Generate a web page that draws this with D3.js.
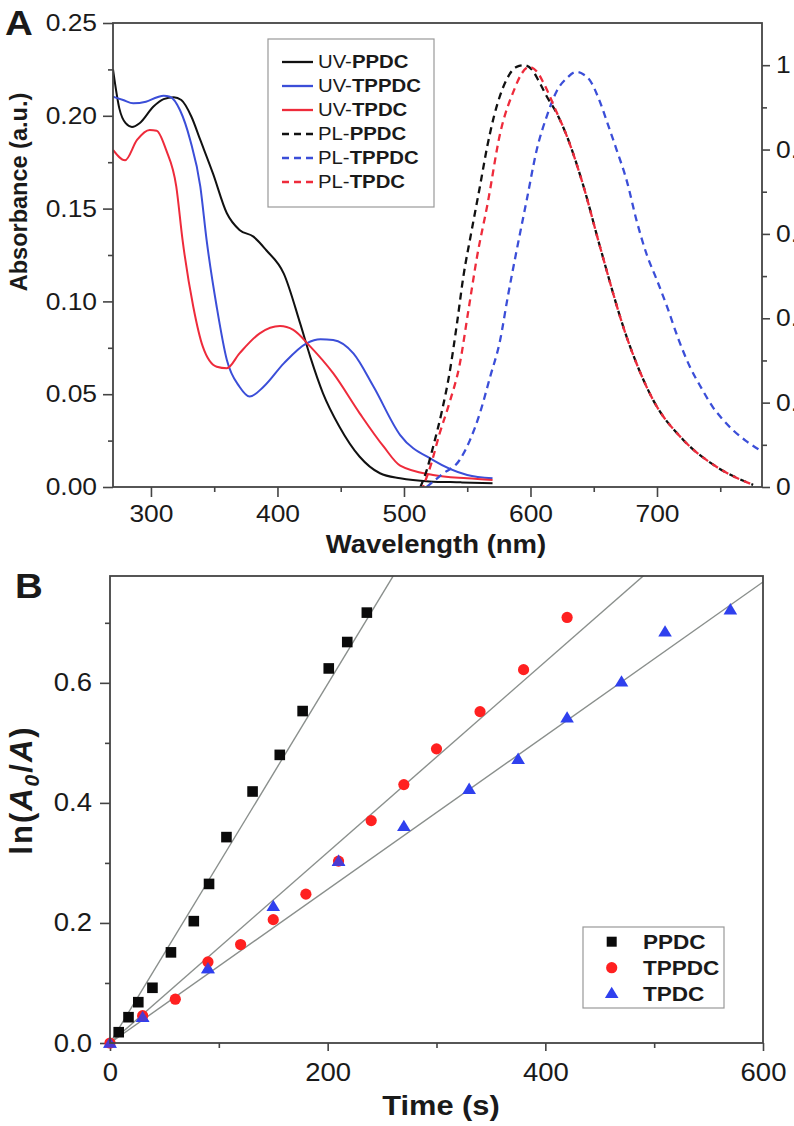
<!DOCTYPE html>
<html><head><meta charset="utf-8">
<script src="https://cdn.jsdelivr.net/npm/d3@7"></script>
<style>
body{margin:0;background:#fff}
svg{display:block}
text{font-family:"Liberation Sans",Arial,Helvetica,sans-serif;fill:#1a1a1a}
.sxL,.sxC,.sxR{transform-box:fill-box}
.sxL{transform-origin:0% 50%;transform:scaleX(1.1)}
.sxC{transform-origin:50% 50%;transform:scaleX(1.1)}
.sxR{transform-origin:100% 50%;transform:scaleX(1.1)}
</style></head><body>
<svg id="c" width="794" height="1126"></svg>
<script>
// ---------- Panel A data (wavelength nm, value) ----------
const uvPPDC = [[270,0.225],[275,0.204],[280,0.196],[285,0.194],[291,0.196],[302,0.205],[310,0.209],[318,0.210],[324,0.2085],[332,0.1995],[339,0.187],[349,0.169],[360,0.1475],[370,0.1385],[381,0.1349],[391,0.1277],[405,0.115],[418,0.088],[426,0.070],[436,0.0505],[449,0.0325],[465,0.0163],[481,0.0074],[497,0.0047],[520,0.003],[545,0.0025],[570,0.002]];
const uvTPPDC = [[270,0.2103],[278,0.2085],[286,0.2067],[296,0.2076],[305,0.2100],[310,0.2108],[315,0.2103],[323,0.203],[331,0.187],[339,0.162],[344,0.133],[352,0.097],[360,0.0684],[370,0.054],[378,0.0487],[389,0.054],[405,0.0666],[423,0.0774],[434,0.0796],[444,0.0792],[460,0.072],[476,0.054],[497,0.028],[523,0.0145],[550,0.0065],[570,0.0047]];
const uvTPDC = [[270,0.1816],[279.5,0.176],[289,0.187],[299,0.1924],[304.5,0.192],[312,0.1816],[320,0.162],[325,0.133],[333.5,0.097],[341,0.0756],[352,0.0648],[360,0.064],[370,0.072],[386,0.0828],[402,0.0867],[412.5,0.0846],[426,0.0756],[444,0.0613],[465,0.0397],[484,0.0217],[497,0.0115],[523,0.0065],[550,0.0047],[570,0.0038]];
const plPPDC = [[513,0],[518,0.04],[523,0.095],[530,0.18],[536,0.27],[542,0.39],[547,0.5],[553,0.6],[560,0.712],[566,0.81],[571,0.877],[581,0.965],[589,0.996],[595,1.0],[601,0.99],[607,0.96],[613,0.925],[620,0.89],[629,0.83],[642,0.712],[655,0.569],[676,0.356],[697,0.206],[721,0.111],[747,0.048],[776,0.005]];
const plTPPDC = [[518,0],[530,0.03],[544,0.064],[552,0.11],[560,0.175],[568,0.26],[576,0.348],[582,0.45],[589,0.56],[597,0.68],[605,0.8],[613,0.88],[621,0.94],[629,0.97],[636,0.984],[642,0.978],[647,0.964],[654,0.92],[660,0.87],[668,0.8],[676,0.727],[684,0.63],[692,0.55],[700,0.49],[708,0.427],[717,0.35],[726,0.285],[735,0.235],[744,0.19],[752,0.16],[760,0.135],[770,0.11],[781,0.088]];
const plTPDC = [[515,0],[521,0.05],[528,0.125],[536,0.2],[544,0.29],[551,0.42],[558,0.55],[566,0.67],[576,0.838],[587,0.941],[593,0.98],[599,0.996],[605,0.985],[610,0.96],[620,0.893],[629,0.83],[642,0.712],[655,0.569],[676,0.356],[697,0.206],[721,0.111],[747,0.048],[776,0.005]];

const absTicks = [0,0.05,0.10,0.15,0.20,0.25];
const absMinor = [0.025,0.075,0.125,0.175,0.225];
const wlTicks = [300,400,500,600,700];
const wlMinor = [350,450,550,650,750];
const plTicks = [0,0.2,0.4,0.6,0.8,1];
const plMinor = [0.1,0.3,0.5,0.7,0.9];

const legendAPrefix = ["UV-","UV-","UV-","PL-","PL-","PL-"];
const legendANames = ["PPDC","TPPDC","TPDC","PPDC","TPPDC","TPDC"];

// ---------- Panel B data (time s, ln(A0/A)) ----------
const tPPDC = [8,17,26,39,56,77,91,107,131,156,177,201,218,236];
const vPPDC = [0.018,0.043,0.068,0.092,0.151,0.203,0.265,0.343,0.419,0.480,0.553,0.624,0.668,0.717];
const tTPPDC = [0,30,60,90,120,150,180,210,240,270,300,340,380,420];
const vTPPDC = [0,0.0455,0.073,0.135,0.164,0.2055,0.248,0.303,0.3705,0.4305,0.49,0.552,0.622,0.709];
const tTPDC = [0,30,90,150,210,270,330,375,420,470,510,570];
const vTPDC = [0,0.043,0.124,0.228,0.303,0.361,0.423,0.473,0.542,0.602,0.685,0.722];
const fitSlopes = [0.00299,0.001588,0.00128];
const seriesB = ["PPDC","TPPDC","TPDC"];
const timeTicks = [0,200,400,600];
const timeMinor = [100,300,500];
const lnTicks = [0,0.2,0.4,0.6];
const lnMinor = [0.1,0.3,0.5,0.7];

// ---------- styling ----------
const cBlack = "#111111", cBlue = "#3b4ed8", cRed = "#ee2b3b";
const colorsA = [cBlack,cBlue,cRed,cBlack,cBlue,cRed];
const axisCol = "#444";

const svg = d3.select("#c");

function styleAx(g, cls, fs){
  g.select(".domain").remove();
  g.selectAll("line").attr("stroke",axisCol).attr("stroke-width",1.6);
  g.selectAll("text").attr("font-size",fs||24).attr("fill","#222").attr("class",cls);
}

// ================= Panel A =================
const A = {l:113, r:762, t:23, b:487};
const xA = d3.scaleLinear().domain([270,783]).range([A.l,A.r]);
const yA = d3.scaleLinear().domain([0,0.25]).range([A.b,A.t]);
const yA2 = d3.scaleLinear().domain([0,1.1]).range([A.b,A.t]);

svg.append("clipPath").attr("id","clipA").append("rect")
  .attr("x",A.l).attr("y",A.t).attr("width",A.r-A.l).attr("height",A.b-A.t);

svg.append("g").attr("transform",`translate(${A.l},0)`)
  .call(d3.axisLeft(yA).tickValues(absTicks).tickSize(10).tickSizeOuter(0).tickPadding(6).tickFormat(d3.format(".2f")))
  .call(g=>styleAx(g,"sxR"));
svg.append("g").attr("transform",`translate(${A.l},0)`)
  .call(d3.axisLeft(yA).tickValues(absMinor).tickSize(5).tickSizeOuter(0).tickFormat(""))
  .call(g=>styleAx(g,""));
svg.append("g").attr("transform",`translate(0,${A.b})`)
  .call(d3.axisBottom(xA).tickValues(wlTicks).tickSize(10).tickSizeOuter(0).tickPadding(8).tickFormat(d3.format("d")))
  .call(g=>styleAx(g,"sxC"));
svg.append("g").attr("transform",`translate(0,${A.b})`)
  .call(d3.axisBottom(xA).tickValues(wlMinor).tickSize(5).tickSizeOuter(0).tickFormat(""))
  .call(g=>styleAx(g,""));
svg.append("g").attr("transform",`translate(${A.r},0)`)
  .call(d3.axisRight(yA2).tickValues(plTicks).tickSize(8).tickSizeOuter(0).tickPadding(6).tickFormat(d=>String(d)))
  .call(g=>styleAx(g,"sxL"));
svg.append("g").attr("transform",`translate(${A.r},0)`)
  .call(d3.axisRight(yA2).tickValues(plMinor).tickSize(5).tickSizeOuter(0).tickFormat(""))
  .call(g=>styleAx(g,""));

const lineUV = d3.line().x(d=>xA(d[0])).y(d=>yA(d[1])).curve(d3.curveMonotoneX);
const linePL = d3.line().x(d=>xA(d[0])).y(d=>yA2(d[1])).curve(d3.curveMonotoneX);

const gA = svg.append("g").attr("clip-path","url(#clipA)");
[[uvPPDC,cBlack],[uvTPPDC,cBlue],[uvTPDC,cRed]].forEach(([d,c])=>{
  gA.append("path").datum(d).attr("d",lineUV).attr("fill","none").attr("stroke",c).attr("stroke-width",2);
});
[[plPPDC,cBlack,0],[plTPPDC,cBlue,0],[plTPDC,cRed,5]].forEach(([d,c,o])=>{
  gA.append("path").datum(d).attr("d",linePL).attr("fill","none").attr("stroke",c)
    .attr("stroke-width",2.3).attr("stroke-dasharray","7,5").attr("stroke-dashoffset",o);
});

svg.append("rect").attr("x",A.l).attr("y",A.t).attr("width",A.r-A.l).attr("height",A.b-A.t)
  .attr("fill","none").attr("stroke",axisCol).attr("stroke-width",1.8);

// legend A
const legA = svg.append("g");
legA.append("rect").attr("x",268).attr("y",39).attr("width",166).attr("height",168)
  .attr("fill","#fff").attr("stroke","#999").attr("stroke-width",1.2);
legendANames.forEach((n,i)=>{
  const y = 62 + i*24;
  legA.append("line").attr("x1",282).attr("x2",313).attr("y1",y).attr("y2",y)
    .attr("stroke",colorsA[i]).attr("stroke-width",i<3?2.3:2.6)
    .attr("stroke-dasharray",i<3?null:"7,5");
  const t = legA.append("text").attr("x",318).attr("y",y+6.5).attr("font-size",18.5).attr("class","sxL");
  t.append("tspan").text(legendAPrefix[i]);
  t.append("tspan").attr("font-weight","bold").text(n);
});

svg.append("text").attr("transform","translate(27,192) rotate(-90)").attr("text-anchor","middle")
  .attr("font-size",23.5).attr("font-weight","bold").text("Absorbance (a.u.)");
svg.append("text").attr("x",436).attr("y",553).attr("text-anchor","middle")
  .attr("font-size",25).attr("font-weight","bold").attr("class","sxC").text("Wavelength (nm)");
svg.append("text").attr("x",5).attr("y",35).attr("font-size",35).attr("font-weight","bold")
  .attr("class","sxL").text("A");

// ================= Panel B =================
const B = {l:110, r:763, t:576, b:1043};
const xB = d3.scaleLinear().domain([0,600]).range([B.l,B.r]);
const yB = d3.scaleLinear().domain([0,0.778]).range([B.b,B.t]);

svg.append("clipPath").attr("id","clipB").append("rect")
  .attr("x",B.l).attr("y",B.t).attr("width",B.r-B.l).attr("height",B.b-B.t);

svg.append("g").attr("transform",`translate(${B.l},0)`)
  .call(d3.axisLeft(yB).tickValues(lnTicks).tickSize(10).tickSizeOuter(0).tickPadding(8).tickFormat(d3.format(".1f")))
  .call(g=>styleAx(g,"sxR",25));
svg.append("g").attr("transform",`translate(${B.l},0)`)
  .call(d3.axisLeft(yB).tickValues(lnMinor).tickSize(5).tickSizeOuter(0).tickFormat(""))
  .call(g=>styleAx(g,""));
svg.append("g").attr("transform",`translate(0,${B.b})`)
  .call(d3.axisBottom(xB).tickValues(timeTicks).tickSize(8).tickSizeOuter(0).tickPadding(12).tickFormat(d3.format("d")))
  .call(g=>styleAx(g,"sxC",25));
svg.append("g").attr("transform",`translate(0,${B.b})`)
  .call(d3.axisBottom(xB).tickValues(timeMinor).tickSize(5).tickSizeOuter(0).tickFormat(""))
  .call(g=>styleAx(g,""));

const gB = svg.append("g").attr("clip-path","url(#clipB)");
fitSlopes.forEach(s=>{
  gB.append("line").attr("x1",xB(0)).attr("y1",yB(0)).attr("x2",xB(600)).attr("y2",yB(s*600))
    .attr("stroke","#8a8f8c").attr("stroke-width",1.4);
});

const mBlack = "#0a0a0a", mRed = "#ff2020", mBlue = "#2f40ee";
const triPath = "M0,-6.5L6.8,4.8L-6.8,4.8Z";
const gM = svg.append("g");
tTPDC.forEach((t,i)=>{
  gM.append("path").attr("d",triPath).attr("transform",`translate(${xB(t)},${yB(vTPDC[i])})`).attr("fill",mBlue);
});
tTPPDC.forEach((t,i)=>{
  gM.append("circle").attr("cx",xB(t)).attr("cy",yB(vTPPDC[i])).attr("r",5.6).attr("fill",mRed);
});
tTPDC.forEach((t,i)=>{
  if(t===210||t===90||t===30||t===0)
    gM.append("path").attr("d",triPath).attr("transform",`translate(${xB(t)},${yB(vTPDC[i])})`).attr("fill",mBlue).attr("opacity",0.85);
});
tPPDC.forEach((t,i)=>{
  gM.append("rect").attr("x",xB(t)-5.3).attr("y",yB(vPPDC[i])-5.3).attr("width",10.6).attr("height",10.6).attr("fill",mBlack);
});

svg.append("rect").attr("x",B.l).attr("y",B.t).attr("width",B.r-B.l).attr("height",B.b-B.t)
  .attr("fill","none").attr("stroke",axisCol).attr("stroke-width",1.8);

const legB = svg.append("g");
legB.append("rect").attr("x",583).attr("y",927).attr("width",141).attr("height",81)
  .attr("fill","#fff").attr("stroke","#999").attr("stroke-width",1.2);
const rowsB = [941.7,967.7,993.3];
legB.append("rect").attr("x",611.7-5).attr("y",rowsB[0]-5).attr("width",10).attr("height",10).attr("fill",mBlack);
legB.append("circle").attr("cx",611.7).attr("cy",rowsB[1]).attr("r",5.6).attr("fill",mRed);
legB.append("path").attr("d",triPath).attr("transform",`translate(611.7,${rowsB[2]})`).attr("fill",mBlue);
seriesB.forEach((n,i)=>{
  legB.append("text").attr("x",643).attr("y",rowsB[i]+7.5).attr("font-size",20.5)
    .attr("font-weight","bold").attr("class","sxL").text(n);
});

svg.append("text").attr("x",441).attr("y",1115).attr("text-anchor","middle")
  .attr("font-size",28).attr("font-weight","bold").attr("class","sxC").text("Time (s)");
const lnT = svg.append("text").attr("transform","translate(32,790) rotate(-90)").attr("text-anchor","middle")
  .attr("font-size",31).attr("font-weight","bold").attr("letter-spacing",2);
lnT.append("tspan").text("ln(");
lnT.append("tspan").attr("font-style","italic").text("A");
lnT.append("tspan").attr("font-style","italic").attr("font-size",21).attr("dy",7).text("0");
lnT.append("tspan").attr("dy",-7).text("/");
lnT.append("tspan").attr("font-style","italic").text("A");
lnT.append("tspan").text(")");
svg.append("text").attr("x",15).attr("y",598).attr("font-size",35).attr("font-weight","bold")
  .attr("class","sxL").text("B");
</script>
</body></html>
